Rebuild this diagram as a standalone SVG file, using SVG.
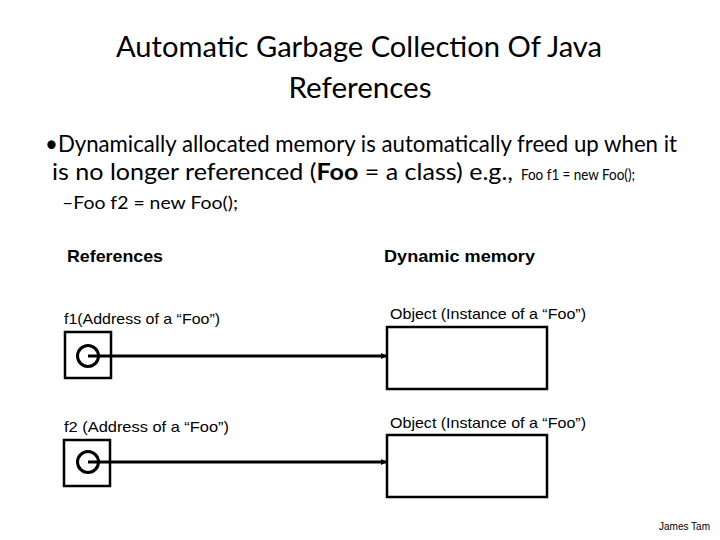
<svg xmlns="http://www.w3.org/2000/svg" width="720" height="540" viewBox="0 0 720 540">
<defs>
<style>
.title{font-family:Lato,"Open Sans","Noto Sans",sans-serif;font-size:29px;fill:#000}
.body{font-family:Lato,"Open Sans","Noto Sans",sans-serif;font-size:23px;fill:#000}
.small{font-family:Lato,"Open Sans","Noto Sans",sans-serif;font-size:18px;fill:#000}
.tiny{font-family:Lato,"Open Sans","Noto Sans",sans-serif;font-size:15px;fill:#000}
.head{font-family:"Liberation Sans",Arial,sans-serif;font-size:17px;font-weight:bold;fill:#000}
.lbl{font-family:"Liberation Sans",Arial,sans-serif;font-size:15px;fill:#000}
.foot{font-family:"Liberation Sans",Arial,sans-serif;font-size:11px;fill:#000}
.box{fill:#fff;stroke:#000;stroke-width:2.5}
.ptr{fill:none;stroke:#000;stroke-width:3}
.conn{stroke:#000;stroke-width:3;fill:none}
</style>
<marker id="arr" markerWidth="6" markerHeight="6" refX="5" refY="3" orient="auto" markerUnits="userSpaceOnUse">
<path d="M0,0 L6,3 L0,6 Z" fill="#000"/>
</marker>
</defs>
<rect width="720" height="540" fill="#fff"/>
<g id="title">
<text class="title" x="359" y="57" text-anchor="middle" textLength="486" lengthAdjust="spacingAndGlyphs">Automatic Garbage Collection Of Java</text>
<text class="title" x="360" y="98" text-anchor="middle" textLength="143" lengthAdjust="spacingAndGlyphs">References</text>
</g>
<g id="bullets">
<text class="body" x="45" y="152" textLength="632" lengthAdjust="spacingAndGlyphs">•Dynamically allocated memory is automatically freed up when it</text>
<text class="body" x="52" y="180" textLength="461" lengthAdjust="spacingAndGlyphs">is no longer referenced (<tspan font-weight="bold">Foo</tspan> = a class) e.g.,</text>
<text class="tiny" x="521" y="180" textLength="114" lengthAdjust="spacingAndGlyphs">Foo f1 = new Foo();</text>
<text class="small" x="62" y="209" textLength="176" lengthAdjust="spacingAndGlyphs">–Foo f2 = new Foo();</text>
</g>
<g id="headers">
<text class="head" x="67" y="262" textLength="96" lengthAdjust="spacingAndGlyphs">References</text>
<text class="head" x="384" y="262" textLength="151" lengthAdjust="spacingAndGlyphs">Dynamic memory</text>
</g>
<g id="f1">
<text class="lbl" x="64" y="324" textLength="156" lengthAdjust="spacingAndGlyphs">f1(Address of a “Foo”)</text>
<rect class="box" x="65" y="332" width="46" height="46"/>
<circle class="ptr" cx="88" cy="356" r="10.5"/>
</g>
<g id="obj1">
<text class="lbl" x="390" y="319" textLength="196" lengthAdjust="spacingAndGlyphs">Object (Instance of a “Foo”)</text>
<rect class="box" x="387" y="327" width="160" height="62"/>
</g>
<g id="f2">
<text class="lbl" x="64" y="432" textLength="165" lengthAdjust="spacingAndGlyphs">f2 (Address of a “Foo”)</text>
<rect class="box" x="64" y="440" width="46" height="46"/>
<circle class="ptr" cx="88" cy="462" r="10.5"/>
</g>
<g id="obj2">
<text class="lbl" x="390" y="428" textLength="196" lengthAdjust="spacingAndGlyphs">Object (Instance of a “Foo”)</text>
<rect class="box" x="387" y="435" width="160" height="62"/>
</g>
<g id="connectors">
<line class="conn" x1="88" y1="356" x2="386" y2="356" marker-end="url(#arr)"/>
<line class="conn" x1="88" y1="462" x2="386" y2="462" marker-end="url(#arr)"/>
</g>
<g id="footer">
<text class="foot" x="659" y="530" textLength="51" lengthAdjust="spacingAndGlyphs">James Tam</text>
</g>
</svg>
